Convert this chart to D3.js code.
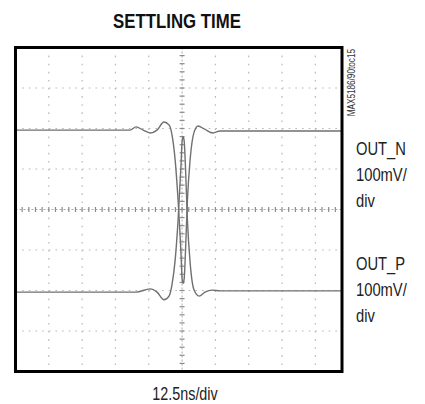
<!DOCTYPE html>
<html>
<head>
<meta charset="utf-8">
<script src="https://cdn.jsdelivr.net/npm/d3@7"></script>
<style>
  body { margin: 0; background: #fff; }
  svg { display: block; }
  text { font-family: "Liberation Sans", Arial, sans-serif; }
</style>
</head>
<body>
<div id="scope"></div>
<script>
// time in ns (0 = centre graticule), level in mV (0 = centre graticule)
var outNTime = [-62.5, -19.5, -17.3, -14.6, -12.0, -9.4, -6.8, -4.9, -3.8, -2.6, -1.5, -0.4, 0.0, 0.4, 0.8, 1.3, 2.0, 3.0, 4.5, 6.0, 8.3, 11.6, 14.3, 60];
var outNmV   = [196, 196, 204, 196, 189, 196, 216, 209, 185, 122, 23, -110, -170, -182, -170, -100, 23, 122, 191, 206, 199, 189, 194, 194];
var outPTime = [-62.5, -17.3, -12.0, -9.4, -6.8, -4.9, -3.8, -2.6, -1.5, -0.4, 0.0, 0.4, 0.8, 1.3, 2.0, 3.0, 4.5, 6.4, 8.6, 11.3, 14.3, 60];
var outPmV   = [-204, -204, -196, -204, -223, -214, -186, -125, -26, 110, 168, 180, 168, 100, -26, -130, -199, -214, -204, -199, -201, -201];

var timeDiv = [-50, -37.5, -25, -12.5, 0, 12.5, 25, 37.5, 50];
var levelDiv = [-300, -200, -100, 0, 100, 200, 300];

var title = "SETTLING TIME";
var xLabel = "12.5ns/div";
var chanN = ["OUT_N", "100mV/", "div"];
var chanP = ["OUT_P", "100mV/", "div"];
var figId = "MAX5186/90toc15";

var W = 425, H = 404;
var svg = d3.select("#scope").append("svg").attr("width", W).attr("height", H);

var x = d3.scaleLinear().domain([-62.5, 60]).range([15.5, 342]);
var y = d3.scaleLinear().domain([-400, 400]).range([371.5, 47.5]);

var xL = x(-62.5), xR = x(60), yT = y(400), yB = y(-400);
var grid = svg.append("g");
var gridColor = "#b8b8b8";

// vertical graticule (dots every 1/5 div)
var dy = (y(0) - y(100)) / 5;
grid.selectAll(".vg").data(timeDiv.filter(function (d) { return d !== 0; }))
    .enter().append("line")
    .attr("x1", function (d) { return x(d); }).attr("x2", function (d) { return x(d); })
    .attr("y1", yT).attr("y2", yB)
    .attr("stroke", gridColor).attr("stroke-width", 1.2)
    .attr("stroke-dasharray", "1.6," + (dy - 1.6));

var dx = (x(12.5) - x(0)) / 5;
grid.selectAll(".hg").data(levelDiv.filter(function (d) { return d !== 0; }))
    .enter().append("line")
    .attr("x1", xL).attr("x2", xR)
    .attr("y1", function (d) { return y(d); }).attr("y2", function (d) { return y(d); })
    .attr("stroke", gridColor).attr("stroke-width", 1.2)
    .attr("stroke-dasharray", "1.6," + (dx - 1.6));

// centre axes with minor ticks
grid.append("line").attr("x1", x(0)).attr("x2", x(0)).attr("y1", yT).attr("y2", yB)
    .attr("stroke", "#aaa").attr("stroke-width", 1).attr("stroke-dasharray", "2,2");
grid.append("line").attr("x1", xL).attr("x2", xR).attr("y1", y(0)).attr("y2", y(0))
    .attr("stroke", "#aaa").attr("stroke-width", 1).attr("stroke-dasharray", "2,2");

var yMinor = d3.range(-400, 401, 20);
grid.selectAll(".yt").data(yMinor).enter().append("line")
    .attr("x1", x(0) - 2.5).attr("x2", x(0) + 2.5)
    .attr("y1", function (d) { return y(d); }).attr("y2", function (d) { return y(d); })
    .attr("stroke", "#8c8c8c").attr("stroke-width", 1.2);
var xMinor = d3.range(-62.5, 60.1, 2.5);
grid.selectAll(".xt").data(xMinor).enter().append("line")
    .attr("x1", function (d) { return x(d); }).attr("x2", function (d) { return x(d); })
    .attr("y1", y(0) - 2.5).attr("y2", y(0) + 2.5)
    .attr("stroke", "#8c8c8c").attr("stroke-width", 1.2);

// traces
var line = d3.line()
    .x(function (d) { return x(d[0]); })
    .y(function (d) { return y(d[1]); })
    .curve(d3.curveMonotoneX);

[[outNTime, outNmV], [outPTime, outPmV]].forEach(function (s) {
    svg.append("path")
        .datum(d3.zip(s[0], s[1]))
        .attr("d", line)
        .attr("fill", "none")
        .attr("stroke", "#707070")
        .attr("stroke-width", 1.4);
});

// frame
svg.append("rect")
    .attr("x", xL).attr("y", yT)
    .attr("width", xR - xL).attr("height", yB - yT)
    .attr("fill", "none").attr("stroke", "#000").attr("stroke-width", 3);

// text (horizontally condensed to mimic a narrow face)
function narrowText(tx, ty, str, size, opts) {
    opts = opts || {};
    return svg.append("text")
        .attr("transform", "translate(" + tx + "," + ty + ")" + (opts.rotate ? " rotate(" + opts.rotate + ")" : "") + " scale(0.82,1)")
        .attr("text-anchor", opts.anchor || "start")
        .attr("font-size", size)
        .attr("font-weight", opts.bold ? "bold" : "normal")
        .attr("fill", opts.fill || "#222")
        .text(str);
}

narrowText(177, 28, title, 20.5, { anchor: "middle", bold: true, fill: "#111" });
narrowText(185, 400, xLabel, 17.5, { anchor: "middle" });
narrowText(355, 49, figId, 10, { anchor: "end", rotate: -90, fill: "#333" });

chanN.forEach(function (d, i) { narrowText(356, 155 + i * 26, d, 18); });
chanP.forEach(function (d, i) { narrowText(356, 270 + i * 26, d, 18); });
</script>
</body>
</html>
